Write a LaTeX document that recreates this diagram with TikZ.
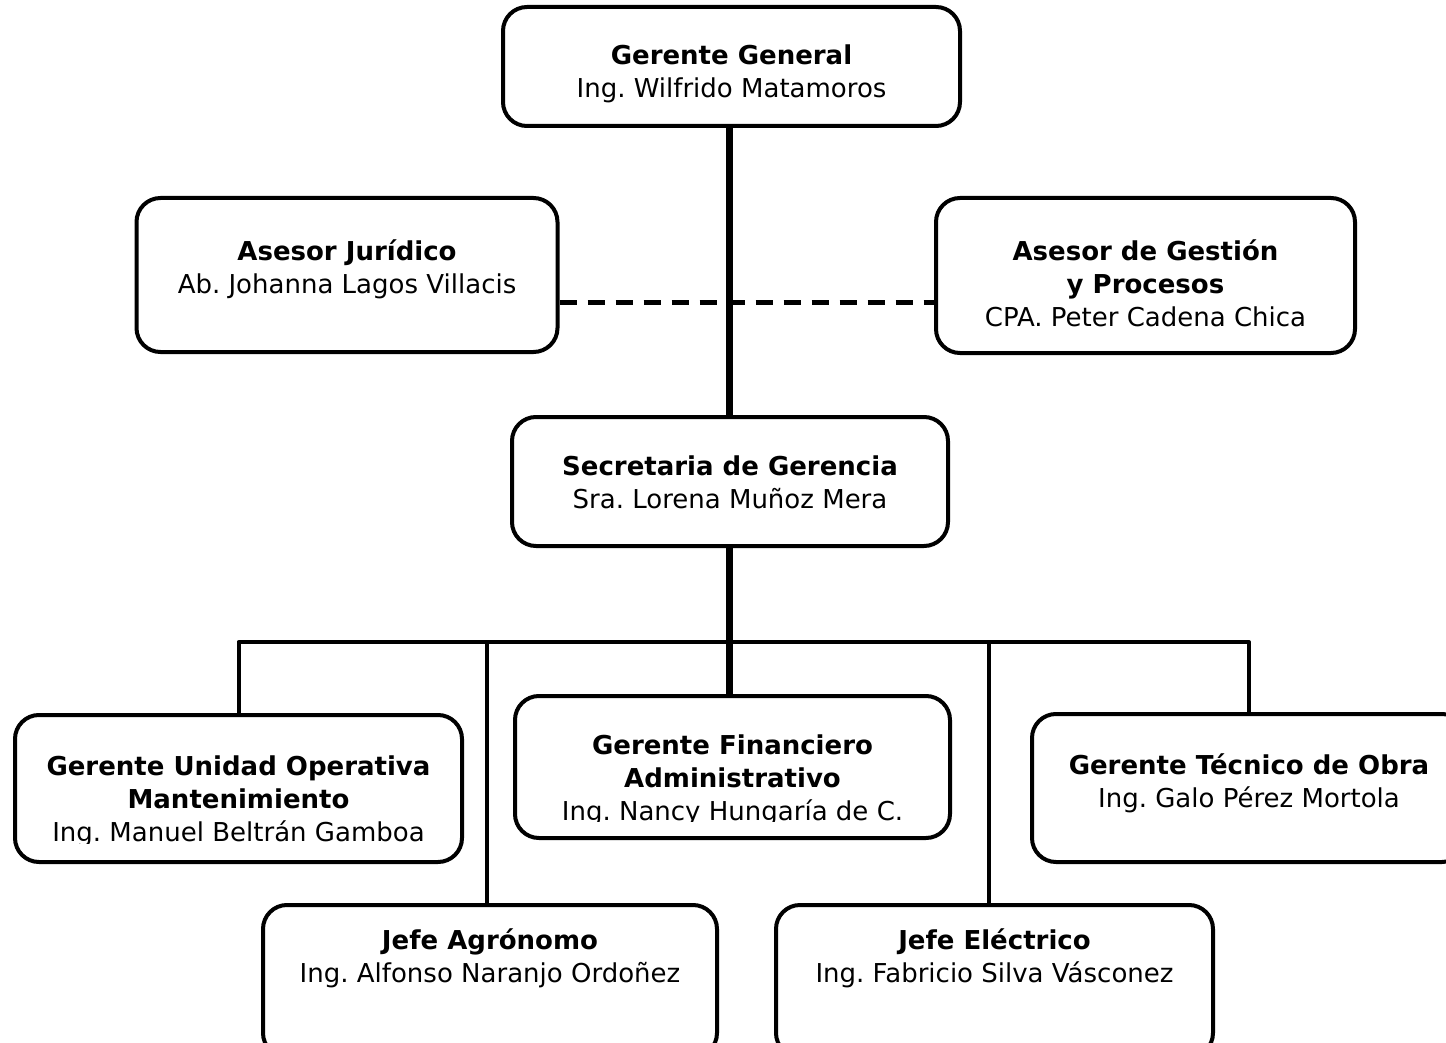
\documentclass[tikz,border=0pt]{standalone}
\usepackage{fontspec}
\setmainfont{DejaVu Sans}
\frenchspacing
\usetikzlibrary{positioning}
\tikzset{
  box/.style={draw=black, line width=4pt, rounded corners=24pt, inner sep=0pt},
  txt/.style={align=center, inner sep=0pt, font=\fontsize{26}{33}\selectfont},
  trunk/.style={line width=7pt},
  branch/.style={line width=4pt},
  dashline/.style={line width=5pt, dash pattern=on 17pt off 11pt}
}
\begin{document}
\begin{tikzpicture}[line join=round, x=1pt, y=-1pt]
\useasboundingbox (0,0) rectangle (1446,1043);
\clip (0,0) rectangle (1446,1043);
\node[box, minimum width=457pt, minimum height=119pt] (gg) at (731.5,66.5) {};
\node[txt, below=40pt of gg.north] (ggt) {\textbf{Gerente General}\\Ing. Wilfrido Matamoros};
\node[box, minimum width=421pt, minimum height=154pt] (aj) at (347,275) {};
\node[txt, below=44pt of aj.north] (ajt) {\textbf{Asesor Jurídico}\\Ab. Johanna Lagos Villacis};
\node[box, minimum width=419pt, minimum height=155pt] (agp) at (1145.5,275.5) {};
\node[txt, below=44pt of agp.north] (agpt) {\textbf{Asesor de Gestión}\\\textbf{y Procesos}\\CPA. Peter Cadena Chica};
\node[box, minimum width=436pt, minimum height=129pt] (sec) at (730,481.5) {};
\node[txt, below=41pt of sec.north] (sect) {\textbf{Secretaria de Gerencia}\\Sra. Lorena Muñoz Mera};
\node[box, minimum width=447pt, minimum height=147pt] (guom) at (238.5,788.5) {};
\begin{scope}
\clip (15,715) rectangle (462,843);
\node[txt, below=43pt of guom.north] (guomt) {\textbf{Gerente Unidad Operativa}\\\textbf{Mantenimiento}\\Ing. Manuel Beltrán Gamboa};
\end{scope}
\node[box, minimum width=435pt, minimum height=142pt] (fa) at (732.5,767) {};
\begin{scope}
\clip (515,696) rectangle (950,821);
\node[txt, below=41pt of fa.north] (fat) {\textbf{Gerente Financiero}\\\textbf{Administrativo}\\Ing. Nancy Hungaría de C.};
\end{scope}
\node[box, minimum width=434pt, minimum height=148pt] (gto) at (1249,788) {};
\node[txt, below=41pt of gto.north] (gtot) {\textbf{Gerente Técnico de Obra}\\Ing. Galo Pérez Mortola};
\node[box, minimum width=454pt, minimum height=152pt] (ja) at (490,981) {};
\node[txt, below=25pt of ja.north] (jat) {\textbf{Jefe Agrónomo}\\Ing. Alfonso Naranjo Ordoñez};
\node[box, minimum width=437pt, minimum height=152pt] (je) at (994.5,981) {};
\node[txt, below=25pt of je.north] (jet) {\textbf{Jefe Eléctrico}\\Ing. Fabricio Silva Vásconez};
\coordinate (dash) at (0,302);
\coordinate (bus) at (0,642);
\draw[dashline] (aj.east |- dash) -- (agp.west |- dash);
\draw[trunk] (729,126) -- (729,417);
\draw[trunk] (729,546) -- (729,696);
\draw[branch] (guom.north) -- (guom.north |- bus) -- (gto.north |- bus) -- (gto.north);
\draw[branch] (487,642) -- (487,905);
\draw[branch] (989,642) -- (989,905);
\end{tikzpicture}
\end{document}
